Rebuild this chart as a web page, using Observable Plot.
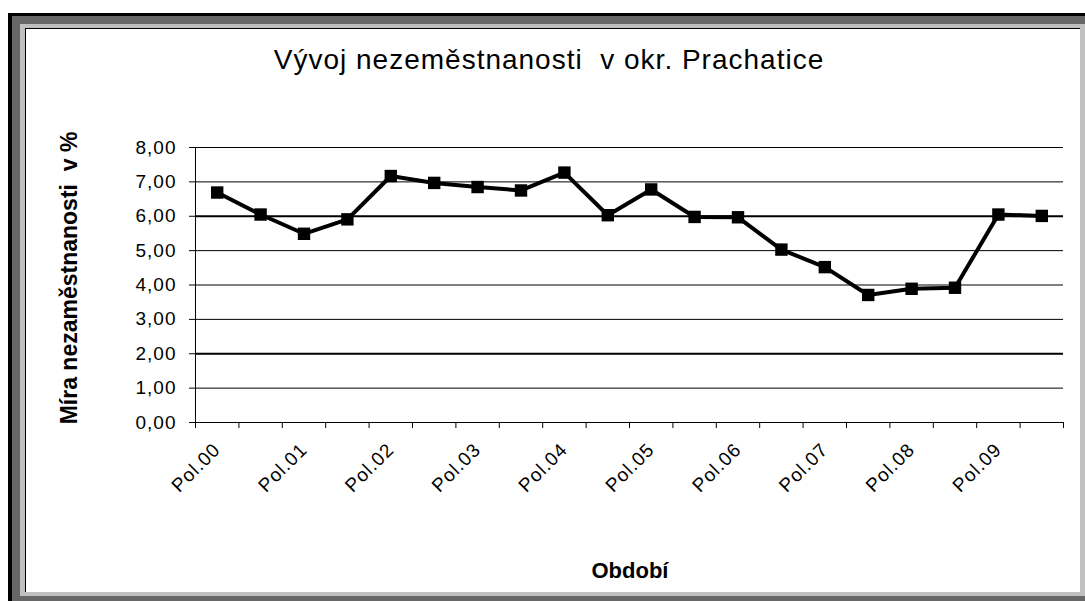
<!DOCTYPE html>
<html>
<head>
<meta charset="utf-8">
<script src="https://cdn.jsdelivr.net/npm/d3@7"></script>
<script src="https://cdn.jsdelivr.net/npm/@observablehq/plot@0.6"></script>
<style>
  html, body { margin: 0; padding: 0; background: #fff; width: 1085px; height: 601px; overflow: hidden; }
  body { position: relative; font-family: "Liberation Sans", Arial, sans-serif; color: #000; }
  .f { position: absolute; box-sizing: border-box; }
  #chart { position: absolute; left: 0; top: 0; }
  .title { position: absolute; left: 549px; top: 46px; transform: translateX(-50%); font-size: 28px; line-height: 28px; letter-spacing: 1px; white-space: nowrap; }
  .ylab { position: absolute; left: 68.5px; top: 278px; transform: translate(-50%, -50%) rotate(-90deg); font-size: 23px; line-height: 23px; font-weight: bold; white-space: nowrap; }
  .xlab { position: absolute; left: 630px; top: 571px; transform: translate(-50%, -50%); font-size: 22px; line-height: 22px; font-weight: bold; white-space: nowrap; }
</style>
</head>
<body>
<div class="f" style="left:8px;top:13px;width:1077px;height:588px;background:#000;"></div>
<div class="f" style="left:12px;top:16px;width:1073px;height:585px;background:#666;"></div>
<div class="f" style="left:20px;top:24px;width:1065px;height:572px;background:#c0c0c0;"></div>
<div class="f" style="left:25px;top:28px;width:1055px;height:564px;background:#fff;border-top:1px solid #000;border-left:1px solid #000;"></div>
<div id="chart"></div>
<div class="title">Vývoj nezeměstnanosti&nbsp; v okr. Prachatice</div>
<div class="ylab">Míra nezaměstnanosti&nbsp; v %</div>
<div class="xlab">Období</div>
<script>
// Unemployment rate (%) for 20 half-year periods, 2000–2009
const values = [6.69, 6.05, 5.49, 5.91, 7.17, 6.97, 6.85, 6.75, 7.27, 6.03,
                6.78, 5.98, 5.97, 5.03, 4.52, 3.71, 3.89, 3.92, 6.05, 6.01];
// Category labels shown on every other period
const tickLabels = ["Pol.00", "Pol.01", "Pol.02", "Pol.03", "Pol.04",
                    "Pol.05", "Pol.06", "Pol.07", "Pol.08", "Pol.09"];
const yTicks = [0, 1, 2, 3, 4, 5, 6, 7, 8];

const data = values.map((v, i) => ({pos: i + 0.5, v}));
const boundaries = d3.range(0, values.length + 1);
const labelPos = tickLabels.map((_, k) => 2 * k + 0.5);

const chart = Plot.plot({
  width: 1085,
  height: 601,
  marginLeft: 195,
  marginRight: 22,
  marginTop: 147,
  marginBottom: 179,
  x: {domain: [0, values.length]},
  y: {domain: [0, 8]},
  style: {background: "transparent", fontFamily: "'Liberation Sans', Arial, sans-serif", letterSpacing: "1px", color: "#000", overflow: "visible"},
  marks: [
    Plot.ruleY(yTicks, {stroke: "#000", strokeWidth: d => (d === 6 || d === 2) ? 2 : 1}),
    Plot.ruleX([0], {stroke: "#000", strokeWidth: 1}),
    Plot.axisY({ticks: yTicks, tickSize: 6, tickPadding: 13, fontSize: 19, label: null,
      tickFormat: d => d.toFixed(2).replace(".", ",")}),
    Plot.axisX({ticks: boundaries, tickSize: 6, tickFormat: () => "", label: null}),
    Plot.axisX({ticks: labelPos, tickSize: 0, tickPadding: 24, tickRotate: -45, fontSize: 19, label: null,
      tickFormat: d => tickLabels[Math.round((d - 0.5) / 2)]}),
    Plot.line(data, {x: "pos", y: "v", stroke: "#000", strokeWidth: 4}),
    Plot.dot(data, {x: "pos", y: "v", symbol: "square", r: 7, fill: "#000", stroke: "none"})
  ]
});
document.getElementById("chart").appendChild(chart);
</script>
</body>
</html>
